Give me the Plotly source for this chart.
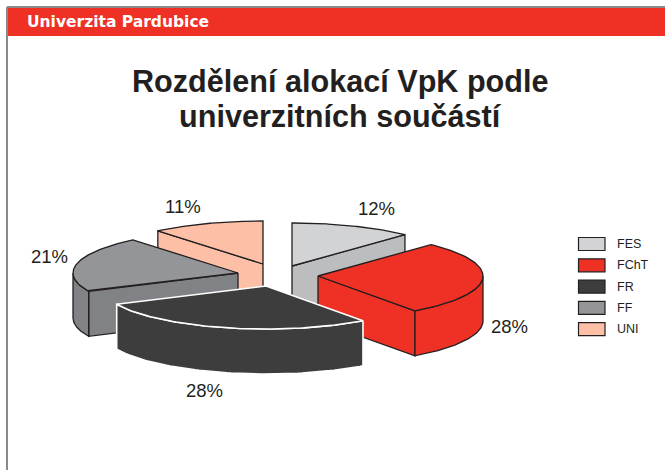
import numpy as np
import plotly.graph_objects as go

# ---- data ----
categories = ["FES", "FChT", "FR", "FF", "UNI"]
shares = [12, 28, 28, 21, 11]
title_lines = ["Rozdělení alokací VpK podle", "univerzitních součástí"]
header_text = "Univerzita Pardubice"

# ---- style ----
top_colors = ["#d1d3d4", "#ef3024", "#3d3d3d", "#939598", "#fdbfa6"]
side_colors = ["#bbbdbf", "#ef3024", "#3d3d3d", "#808285", "#fdbfa6"]
edge_colors = ["#231f20", "#231f20", "#ffffff", "#231f20", "#231f20"]
INK = "#231f20"

# ---- geometry (axis units equal page pixels) ----
W, H = 665, 470
RX, RY, DEPTH = 165, 43, 45
apex_x = [292, 318, 266, 238, 263]
apex_y = [266, 276, 286, 273, 264]
label_dx = [24, 27, -20, -27, -24]
label_dy = [-18, 48, 63, -7, -17]
paint_order = [0, 4, 3, 1, 2]

edges = np.cumsum([0] + shares) / sum(shares) * 360.0


def rim(ax, ay, deg):
    t = np.radians(deg)
    return ax + RX * np.sin(t), ay - RY * np.cos(t)


def add_poly(fig, xs, ys, fill, line, width=1.3):
    fig.add_trace(go.Scatter(
        x=list(xs), y=list(ys), mode="lines", fill="toself", fillcolor=fill,
        line=dict(color=line, width=width), hoverinfo="skip", showlegend=False,
    ))


fig = go.Figure()
for i in paint_order:
    a, b = edges[i], edges[i + 1]
    ax, ay = apex_x[i], apex_y[i]
    w = 1.6 if edge_colors[i] == "#ffffff" else 1.3
    # straight cut faces that look towards the viewer
    for deg, visible in ((a, np.sin(np.radians(a)) < 0), (b, np.sin(np.radians(b)) > 0)):
        if visible:
            rx_, ry_ = rim(ax, ay, deg)
            add_poly(fig, [ax, rx_, rx_, ax, ax],
                     [ay, ry_, ry_ + DEPTH, ay + DEPTH, ay],
                     side_colors[i], edge_colors[i], w)
    # curved outer wall (front half of the rim only)
    lo, hi = max(a, 90), min(b, 270)
    if lo < hi:
        arc = np.linspace(lo, hi, 70)
        px, py = rim(ax, ay, arc)
        add_poly(fig, np.r_[px, px[::-1], px[0]],
                 np.r_[py, py[::-1] + DEPTH, py[0]],
                 side_colors[i], edge_colors[i], w)
    # top face
    arc = np.linspace(a, b, 90)
    px, py = rim(ax, ay, arc)
    add_poly(fig, np.r_[ax, px, ax], np.r_[ay, py, ay], top_colors[i], edge_colors[i], w)

shapes = [
    dict(type="rect", x0=7, x1=W, y0=8, y1=36, fillcolor="#ef3024", line_width=0, layer="below"),
    dict(type="line", x0=7, x1=W, y0=7, y1=7, line=dict(color="#8a8a8d", width=2)),
    dict(type="line", x0=7, x1=7, y0=7, y1=H, line=dict(color="#8a8a8d", width=2)),
]

annotations = [
    dict(x=27, y=22, text=f"<b>{header_text}</b>", xanchor="left", yanchor="middle",
         font=dict(family="DejaVu Sans", size=15.5, color="#ffffff")),
]
for k, line in enumerate(title_lines):
    annotations.append(dict(x=340, y=81 + 34.5 * k, text=f"<b>{line}</b>", xanchor="center", yanchor="middle",
                            font=dict(family="Liberation Sans", size=30.6, color=INK)))

for i, (name, value) in enumerate(zip(categories, shares)):
    mid = (edges[i] + edges[i + 1]) / 2
    mx, my = rim(apex_x[i], apex_y[i], mid)
    annotations.append(dict(x=mx + label_dx[i], y=my + label_dy[i], text=f"{value}%",
                            xanchor="center", yanchor="middle",
                            font=dict(family="Liberation Sans", size=18.5, color=INK)))
    ly = 244 + 21.3 * i
    shapes.append(dict(type="rect", x0=578.5, x1=605, y0=ly - 6.5, y1=ly + 6.5,
                       fillcolor=top_colors[i], line=dict(color=INK, width=1.2)))
    annotations.append(dict(x=617, y=ly, text=name, xanchor="left", yanchor="middle",
                            font=dict(family="Liberation Sans", size=12.5, color=INK)))

for an in annotations:
    an.update(xref="x", yref="y", showarrow=False, borderpad=0, borderwidth=0)
for s in shapes:
    s.update(xref="x", yref="y")

fig.update_layout(
    width=W, height=H, margin=dict(l=0, r=0, t=0, b=0), autosize=False,
    paper_bgcolor="#ffffff", plot_bgcolor="#ffffff", showlegend=False,
    xaxis=dict(range=[0, W], visible=False, fixedrange=True),
    yaxis=dict(range=[H, 0], visible=False, fixedrange=True),
    shapes=shapes, annotations=annotations,
)
fig.write_html("out.html", config=dict(displayModeBar=False),
               post_script="document.body.style.margin='0';")
